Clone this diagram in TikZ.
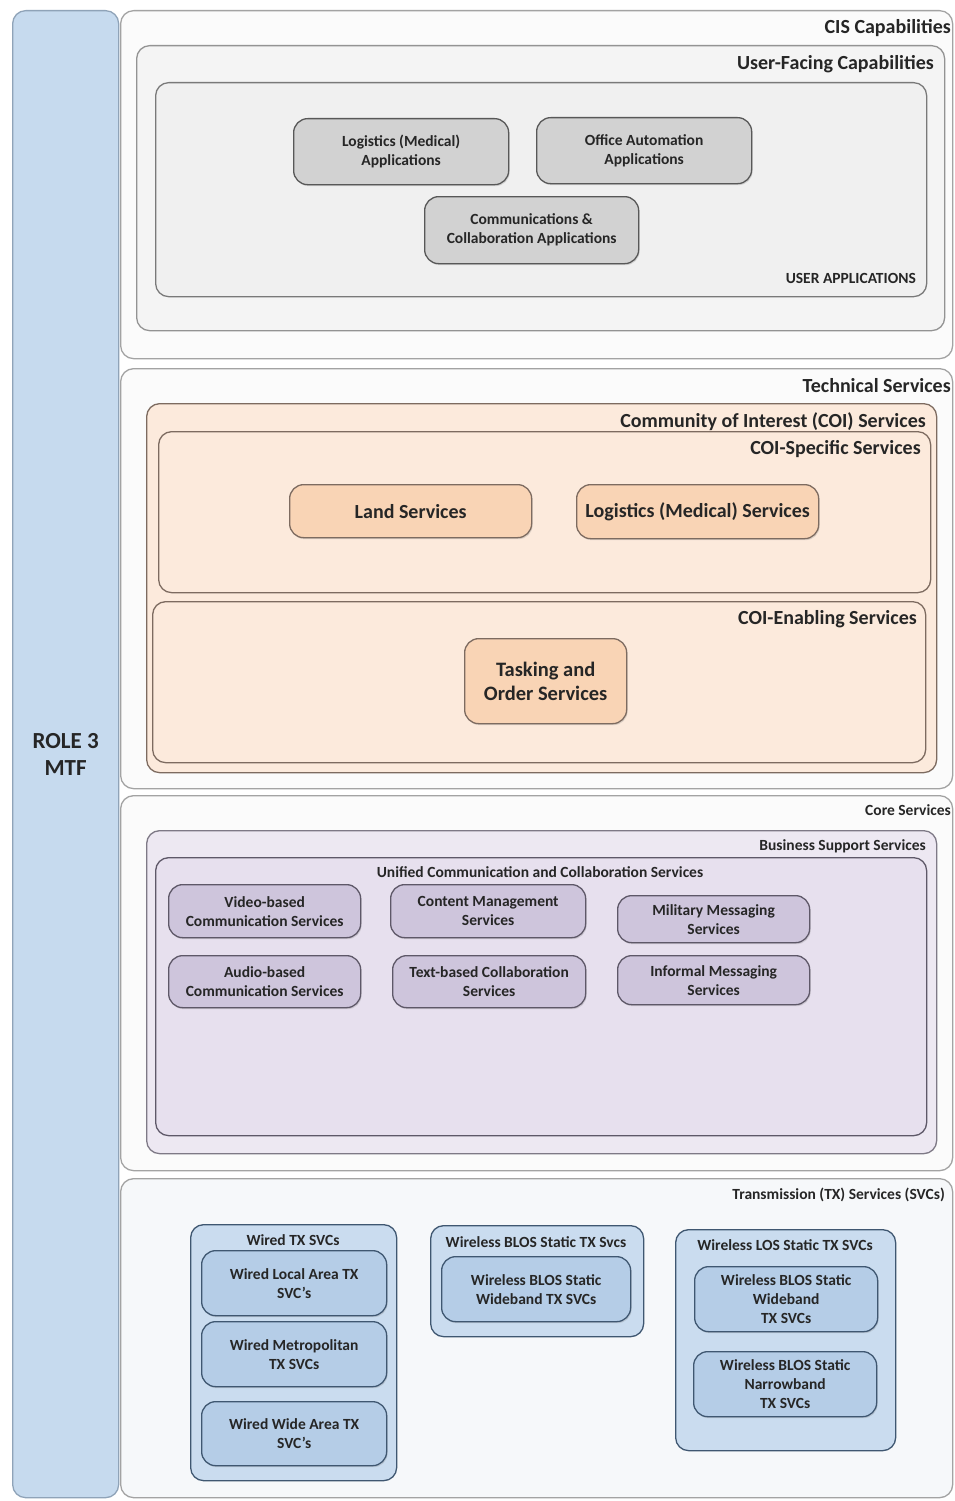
\documentclass[tikz,border=0pt]{standalone}
\usepackage{fontspec}
\setmainfont{Carlito}
\usetikzlibrary{shadows}

\definecolor{barfill}{HTML}{C6DAEE}
\definecolor{barline}{HTML}{8FA3B8}
\definecolor{secline}{HTML}{A3A3A3}
\definecolor{secfill}{HTML}{FBFBFB}
\definecolor{ufcfill}{HTML}{F4F4F4}
\definecolor{uafill}{HTML}{F0F0F0}
\definecolor{appfill}{HTML}{D2D2D2}
\definecolor{appline}{HTML}{585858}
\definecolor{coifill}{HTML}{FCEADC}
\definecolor{coiline}{HTML}{7D6B60}
\definecolor{svcfill}{HTML}{F9D4B5}
\definecolor{bssfill}{HTML}{EDE8F2}
\definecolor{ucfill}{HTML}{E7E0EE}
\definecolor{msgfill}{HTML}{CEC5DC}
\definecolor{msgline}{HTML}{5E5868}
\definecolor{txfill}{HTML}{F6F8FA}
\definecolor{grpfill}{HTML}{CADCEF}
\definecolor{itemfill}{HTML}{B5CDE7}
\definecolor{blueline}{HTML}{3F5771}
\definecolor{txtcol}{HTML}{262626}

\tikzset{
  box/.style={draw, anchor=north west, inner sep=2pt, align=center, text=txtcol},
  panel/.style={box, rounded corners=13pt, line width=1.3pt},
  itembox/.style={box, rounded corners=14pt, line width=1.3pt,
    drop shadow={shadow xshift=1pt, shadow yshift=-1.5pt, opacity=0.25}},
  bigtxt/.style={font=\bfseries\fontsize{20}{24}\selectfont, text=txtcol},
  smalltxt/.style={font=\bfseries\fontsize{15.5}{19}\selectfont, text=txtcol},
  lbl/.style={anchor=east, inner sep=0pt},
}

\begin{document}
\begin{tikzpicture}[x=1pt,y=-1pt]
\useasboundingbox (0,0) rectangle (954,1501);
\fill[white] (0,0) rectangle (954,1501);

% Left column
\node[panel, draw=barline, fill=barfill, minimum width=106, minimum height=1487,
      font=\bfseries\fontsize{23}{27}\selectfont] (role) at (12,10) {ROLE 3\\MTF};

% ---------------- CIS Capabilities ----------------
\node[panel, draw=secline, fill=secfill, minimum width=832, minimum height=348] (cis) at (120,10) {};
\node[lbl, bigtxt] (cislbl) at (951,28) {CIS Capabilities};
\node[panel, draw=secline!90!black, fill=ufcfill, minimum width=808, minimum height=285] (ufc) at (136,45) {};
\node[lbl, bigtxt] (ufclbl) at (934,64) {User-Facing Capabilities};
\node[panel, draw=appline!80, fill=uafill, minimum width=771, minimum height=214] (ua) at (155,82) {};
\node[lbl, smalltxt] (ualbl) at (916,278) {USER APPLICATIONS};
\node[itembox, draw=appline, fill=appfill, minimum width=215, minimum height=66, smalltxt] (logapp) at (293,118) {Logistics (Medical)\\Applications};
\node[itembox, draw=appline, fill=appfill, minimum width=215, minimum height=66, smalltxt] (offapp) at (536,117) {Office Automation\\Applications};
\node[itembox, draw=appline, fill=appfill, minimum width=214, minimum height=67, smalltxt] (comapp) at (424,196) {Communications \&\\Collaboration Applications};

% ---------------- Technical Services ----------------
\node[panel, draw=secline, fill=secfill, minimum width=832, minimum height=420] (tech) at (120,368) {};
\node[lbl, bigtxt] (techlbl) at (951,386) {Technical Services};
\node[panel, draw=coiline, fill=coifill, minimum width=790, minimum height=369] (coi) at (146,403) {};
\node[lbl, bigtxt] (coilbl) at (926,422) {Community of Interest (COI) Services};
\node[panel, draw=coiline, fill=coifill, minimum width=772, minimum height=161] (coisp) at (158,431) {};
\node[lbl, bigtxt] (coisplbl) at (921,449) {COI-Specific Services};
\node[itembox, draw=coiline, fill=svcfill, minimum width=242, minimum height=53, bigtxt] (land) at (289,484) {Land Services};
\node[itembox, draw=coiline, fill=svcfill, minimum width=242, minimum height=54, bigtxt] (logsvc) at (576,484) {Logistics (Medical) Services};
\node[panel, draw=coiline, fill=coifill, minimum width=773, minimum height=161] (coien) at (152,601) {};
\node[lbl, bigtxt] (coienlbl) at (917,619) {COI-Enabling Services};
\node[itembox, draw=coiline, fill=svcfill, minimum width=162, minimum height=85,
      font=\bfseries\fontsize{20.5}{24}\selectfont] (task) at (464,638) {Tasking and\\Order Services};

% ---------------- Core Services ----------------
\node[panel, draw=secline, fill=secfill, minimum width=832, minimum height=375] (core) at (120,795) {};
\node[lbl, smalltxt] (corelbl) at (951,810) {Core Services};
\node[panel, draw=msgline!80, fill=bssfill, minimum width=790, minimum height=323] (bss) at (146,830) {};
\node[lbl, smalltxt] (bsslbl) at (926,846) {Business Support Services};
\node[panel, draw=msgline, fill=ucfill, minimum width=771, minimum height=278] (uc) at (155,857) {};
\node[smalltxt, inner sep=0pt] (uclbl) at (540,872) {Unified Communication and Collaboration Services};
\node[itembox, draw=msgline, fill=msgfill, minimum width=192, minimum height=53, smalltxt] (video) at (168,884) {Video-based\\Communication Services};
\node[itembox, draw=msgline, fill=msgfill, minimum width=195, minimum height=53, smalltxt] (content) at (390,884) {Content Management\\Services};
\node[itembox, draw=msgline, fill=msgfill, minimum width=192, minimum height=47, smalltxt] (military) at (617,895) {Military Messaging\\Services};
\node[itembox, draw=msgline, fill=msgfill, minimum width=192, minimum height=52, smalltxt] (audio) at (168,955) {Audio-based\\Communication Services};
\node[itembox, draw=msgline, fill=msgfill, minimum width=193, minimum height=52, smalltxt] (textcol) at (392,955) {Text-based Collaboration\\Services};
\node[itembox, draw=msgline, fill=msgfill, minimum width=192, minimum height=49, smalltxt] (informal) at (617,955) {Informal Messaging\\Services};

% ---------------- Transmission Services ----------------
\node[panel, draw=secline, fill=txfill, minimum width=832, minimum height=319] (tx) at (120,1178) {};
\node[lbl, smalltxt] (txlbl) at (945,1195) {Transmission (TX) Services (SVCs)};

\node[panel, draw=blueline, fill=grpfill, minimum width=206, minimum height=256] (wired) at (190,1224) {};
\node[smalltxt, inner sep=0pt] (wiredlbl) at (293,1240) {Wired TX SVCs};
\node[itembox, draw=blueline, fill=itemfill, minimum width=185, minimum height=65, smalltxt] (wlan) at (201,1250) {Wired Local Area TX\\SVC's};
\node[itembox, draw=blueline, fill=itemfill, minimum width=185, minimum height=65, smalltxt] (wman) at (201,1321) {Wired Metropolitan\\TX SVCs};
\node[itembox, draw=blueline, fill=itemfill, minimum width=185, minimum height=64, smalltxt] (wwan) at (201,1401) {Wired Wide Area TX\\SVC's};

\node[panel, draw=blueline, fill=grpfill, minimum width=213, minimum height=111] (blos) at (430,1225) {};
\node[smalltxt, inner sep=0pt] (bloslbl) at (536,1242) {Wireless BLOS Static TX Svcs};
\node[itembox, draw=blueline, fill=itemfill, minimum width=189, minimum height=65, smalltxt] (bloswb) at (441,1256) {Wireless BLOS Static\\Wideband TX SVCs};

\node[panel, draw=blueline, fill=grpfill, minimum width=220, minimum height=221] (los) at (675,1229) {};
\node[smalltxt, inner sep=0pt] (loslbl) at (785,1245) {Wireless LOS Static TX SVCs};
\node[itembox, draw=blueline, fill=itemfill, minimum width=183, minimum height=65, smalltxt] (loswb) at (694,1266) {Wireless BLOS Static\\Wideband\\TX SVCs};
\node[itembox, draw=blueline, fill=itemfill, minimum width=183, minimum height=65, smalltxt] (losnb) at (693,1351) {Wireless BLOS Static\\Narrowband\\TX SVCs};
\end{tikzpicture}
\end{document}
